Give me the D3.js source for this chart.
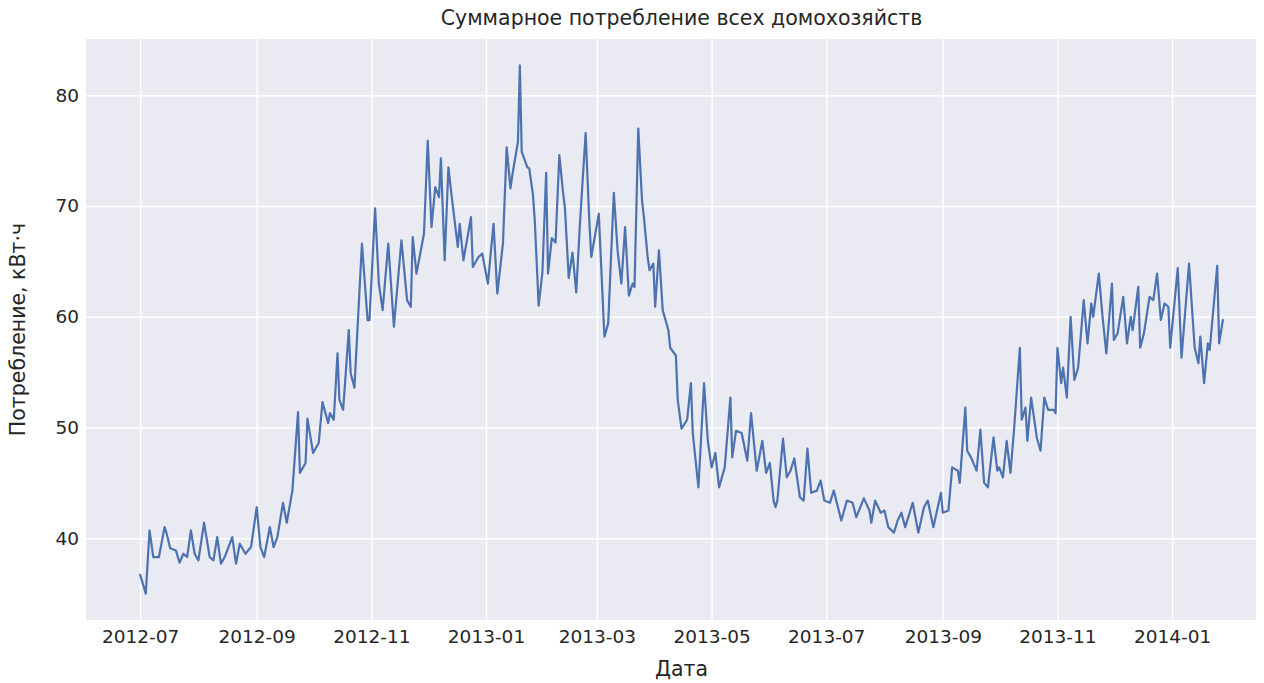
<!DOCTYPE html>
<html>
<head>
<meta charset="utf-8">
<script src="https://cdn.jsdelivr.net/npm/d3@7"></script>
<style>
  html, body { margin: 0; padding: 0; background: #ffffff; }
  svg { display: block; }
  text { font-family: "DejaVu Sans", sans-serif; fill: #262626; }
</style>
</head>
<body>
<svg id="chart" width="1264" height="683"></svg>
<script>
// Days since 2012-07-01
const dayOffsets = [
  0,3,5,7,10,13,14,16,19,21,23,25,27,29,31,34,37,39,41,43,45,
  49,51,53,56,59,62,64,66,69,71,73,76,78,81,84,85,88,89,92,95,97,
  100,101,103,105,106,108,111,112,114,118,121,122,125,127,129,132,135,139,142,144,
  145,147,151,153,155,157,159,160,162,164,166,169,170,172,176,177,180,182,185,188,190,193,195,
  197,198,201,202,203,206,207,209,210,212,214,216,217,219,221,223,225,226,228,230,232,234,237,239,240,
  244,247,249,252,254,256,258,260,262,263,265,267,268,270,271,273,274,276,278,281,282,
  285,286,288,291,293,294,297,300,302,304,306,308,311,314,315,317,320,323,325,328,331,333,335,337,
  338,339,342,344,346,348,351,353,355,357,360,362,364,367,369,373,376,379,381,385,
  388,389,391,394,396,398,401,403,405,407,411,414,417,419,422,426,427,430,432,
  435,436,439,440,442,445,447,449,451,454,456,457,459,461,463,465,468,469,471,472,474,477,479,481,
  483,486,487,488,490,491,493,495,497,499,502,504,506,507,510,512,514,517,518,520,523,525,527,528,
  531,532,534,537,539,541,543,545,547,548,552,554,558,561,563,564,566,568,569,573,574,576
];
// Total consumption, kWh
const consumption = [
  36.7,35.0,40.7,38.3,38.3,41.0,40.5,39.1,38.9,37.8,38.6,38.3,40.7,38.6,38.0,41.4,38.3,38.0,40.1,37.7,38.3,
  40.1,37.7,39.5,38.6,39.2,42.8,39.2,38.3,41.0,39.2,40.1,43.2,41.4,44.3,51.4,45.9,46.8,50.8,47.7,48.6,52.3,
  50.4,51.3,50.7,56.7,52.5,51.6,58.8,54.9,53.6,66.6,59.7,59.7,69.8,63.0,60.6,66.6,59.1,66.9,61.5,60.9,
  67.2,63.9,67.5,75.9,68.1,71.7,70.8,74.3,65.1,73.5,70.5,66.3,68.4,65.1,69.0,64.5,65.4,65.7,63.0,68.4,62.1,66.6,75.3,
  71.6,72.8,75.8,82.7,74.9,73.5,73.4,71.0,68.5,61.0,64.0,73.0,63.9,67.1,66.7,74.6,71.2,69.8,63.5,65.8,62.2,68.5,76.6,68.5,65.4,
  69.3,58.2,59.4,71.2,66.0,63.0,68.1,61.9,63.0,62.7,77.0,70.5,69.0,65.4,64.2,64.8,60.9,66.0,60.6,58.8,57.2,
  56.5,52.5,49.9,50.7,54.0,49.5,44.6,54.0,48.8,46.4,47.7,44.6,46.4,52.7,47.3,49.7,49.5,47.0,51.3,46.1,48.8,45.9,46.8,43.4,
  42.8,43.4,49.0,45.5,46.1,47.2,43.7,43.4,48.1,44.1,44.3,45.2,43.4,43.2,44.3,41.6,43.4,43.2,41.9,43.6,
  42.5,41.4,43.4,42.3,42.5,41.0,40.5,41.6,42.3,41.0,43.2,40.5,42.8,43.4,41.0,44.1,42.3,42.5,46.4,
  46.1,45.0,51.8,47.9,47.3,46.1,49.8,45.0,44.6,49.1,46.1,46.4,45.5,48.8,45.9,50.0,57.2,50.7,51.8,48.8,52.7,49.1,47.9,52.7,
  51.6,51.6,51.3,57.2,54.0,55.4,52.7,60.0,54.3,55.4,61.5,57.6,61.2,60.0,63.9,60.0,56.7,63.0,57.9,58.5,61.8,57.6,60.0,58.8,
  62.7,57.2,58.5,61.8,61.5,63.9,59.7,61.2,60.9,57.2,64.4,56.3,64.8,57.2,55.8,58.2,54.0,57.6,57.0,64.6,57.6,59.7
];
const xTickLabels = ["2012-07","2012-09","2012-11","2013-01","2013-03","2013-05","2013-07","2013-09","2013-11","2014-01"];
const yTickValues = [40, 50, 60, 70, 80];
const titleText = "Суммарное потребление всех домохозяйств";
const xLabelText = "Дата";
const yLabelText = "Потребление, кВт·ч";

const startDate = new Date(Date.UTC(2012, 6, 1));
const data = dayOffsets.map((d, i) => ({ date: d3.utcDay.offset(startDate, d), value: consumption[i] }));

const svg = d3.select("#chart");
const axLeft = 86, axRight = 1277, axTop = 39, axBottom = 620;
const visibleRight = 1256;

// matplotlib-like 5% margins
const xExt = d3.extent(data, d => d.date.getTime());
const xPad = (xExt[1] - xExt[0]) * 0.05;
const x = d3.scaleUtc().domain([new Date(xExt[0] - xPad), new Date(xExt[1] + xPad)]).range([axLeft, axRight]);
const yExt = d3.extent(data, d => d.value);
const yPad = (yExt[1] - yExt[0]) * 0.05;
const y = d3.scaleLinear().domain([yExt[0] - yPad, yExt[1] + yPad]).range([axBottom, axTop]);

const parseMonth = d3.utcParse("%Y-%m");
const xTicks = xTickLabels.map(parseMonth);

svg.append("defs").append("clipPath").attr("id", "plotclip")
  .append("rect").attr("x", axLeft).attr("y", axTop).attr("width", visibleRight - axLeft).attr("height", axBottom - axTop);

const plot = svg.append("g").attr("clip-path", "url(#plotclip)");
plot.append("rect").attr("x", axLeft).attr("y", axTop).attr("width", axRight - axLeft).attr("height", axBottom - axTop).attr("fill", "#EAEAF2");

const xGrid = d3.axisBottom(x).tickValues(xTicks).tickSize(-(axBottom - axTop)).tickFormat("");
plot.append("g").attr("transform", `translate(0,${axBottom})`).call(xGrid)
  .call(g => g.select(".domain").remove())
  .call(g => g.selectAll("line").attr("stroke", "#ffffff").attr("stroke-width", 1.5));
const yGrid = d3.axisLeft(y).tickValues(yTickValues).tickSize(-(axRight - axLeft)).tickFormat("");
plot.append("g").attr("transform", `translate(${axLeft},0)`).call(yGrid)
  .call(g => g.select(".domain").remove())
  .call(g => g.selectAll("line").attr("stroke", "#ffffff").attr("stroke-width", 1.5));

const line = d3.line().x(d => x(d.date)).y(d => y(d.value));
plot.append("path").datum(data).attr("d", line)
  .attr("fill", "none").attr("stroke", "#4C72B0").attr("stroke-width", 2.2).attr("stroke-linejoin", "round").attr("stroke-linecap", "round");

const fmt = d3.utcFormat("%Y-%m");
const xAxis = d3.axisBottom(x).tickValues(xTicks).tickSize(0).tickPadding(10).tickFormat(fmt);
svg.append("g").attr("transform", `translate(0,${axBottom})`).call(xAxis)
  .call(g => g.select(".domain").remove())
  .call(g => g.selectAll("text").attr("font-size", 18.5).attr("font-family", "DejaVu Sans").attr("fill", "#262626"));
const yAxis = d3.axisLeft(y).tickValues(yTickValues).tickSize(0).tickPadding(7).tickFormat(d3.format("d"));
svg.append("g").attr("transform", `translate(${axLeft},0)`).call(yAxis)
  .call(g => g.select(".domain").remove())
  .call(g => g.selectAll("text").attr("font-size", 18.5).attr("font-family", "DejaVu Sans").attr("fill", "#262626"));

const cx = (axLeft + axRight) / 2;
svg.append("text").attr("x", cx).attr("y", 25).attr("text-anchor", "middle").attr("font-size", 20.5).text(titleText);
svg.append("text").attr("x", cx).attr("y", 676).attr("text-anchor", "middle").attr("font-size", 20.5).text(xLabelText);
svg.append("text").attr("transform", `translate(25,${(axTop + axBottom) / 2}) rotate(-90)`).attr("text-anchor", "middle").attr("font-size", 20.5).text(yLabelText);
</script>
</body>
</html>
